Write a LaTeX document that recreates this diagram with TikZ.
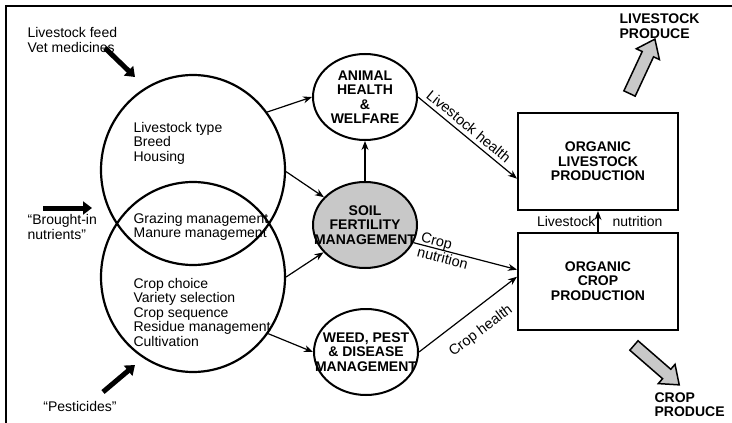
\documentclass[tikz,border=0pt]{standalone}
\usepackage{fontspec}
\setmainfont{Liberation Sans}
\usetikzlibrary{arrows.meta}
\usetikzlibrary{shapes.geometric,shapes.arrows}
\definecolor{soilc}{RGB}{200,200,200}
\definecolor{prodc}{RGB}{200,200,200}
\newcommand{\dgfont}{\fontsize{14}{14.5}\selectfont}

\begin{document}
\begin{tikzpicture}[x=1pt, y=-1pt, line width=1.2pt, >={Stealth[length=9pt,width=7pt]}]
	\tikzstyle{ring}=[ellipse, draw=black, line width=2.2pt, minimum width=184pt, minimum height=190pt, inner sep=0pt]
	\tikzstyle{topic}=[ellipse, draw=black, line width=2pt, fill=white, minimum width=104pt, minimum height=86pt, inner sep=0pt]
	\tikzstyle{soil topic}=[topic, fill=soilc]
	\tikzstyle{system}=[rectangle, draw=black, line width=2pt, minimum width=160pt, minimum height=97pt]
	\tikzstyle{caps}=[font=\dgfont\bfseries, align=center, inner sep=0pt]
	\tikzstyle{plain}=[font=\dgfont, align=left, inner sep=0pt, anchor=west]
	\tikzstyle{link}=[line width=1.2pt, ->]
	\tikzstyle{input}=[line width=5pt, -{Triangle[length=9pt,width=13pt]}]
	\tikzstyle{produce}=[single arrow, draw=black, line width=1.5pt, fill=prodc, minimum height=60pt, inner xsep=0pt, inner ysep=5.5pt, single arrow head extend=6.5pt, single arrow tip angle=75]
	\tikzstyle{slanted}=[font=\fontsize{14.5}{15}\selectfont, sloped, inner sep=4pt]

	\useasboundingbox (0,0) rectangle (732,423);
	\draw[line width=1.5pt] (6,423) -- (6,6) -- (732,6);

	% Management circles
	\node[ring](C1) at (193,170) {};
	\node[ring](C2) at (193,277) {};

	\node[plain](T1) at (133,143) {Livestock type\\Breed\\Housing};
	\node[plain](T2) at (133,227) {Grazing management\\Manure management};
	\node[plain](T3) at (133,312) {Crop choice\\Variety selection\\Crop sequence\\Residue management\\Cultivation};

	% Inputs
	\node[plain](I1) at (27,40) {Livestock feed\\Vet medicines};
	\node[plain](I2) at (27,227) {“Brought-in\\nutrients”};
	\node[font=\dgfont, inner sep=0pt](I3) at (80,406) {“Pesticides”};

	\coordinate (i1a) at (105,48);
	\coordinate (i1b) at (135,77);
	\coordinate (i2a) at (43,208);
	\coordinate (i2b) at (92,208);
	\coordinate (i3a) at (103,392);
	\coordinate (i3b) at (135,365);

	% Topics
	\node[topic](M1) at (365,97) {};
	\node[soil topic](M2) at (365,225) {};
	\node[topic](M3) at (366,352) {};
	\node[caps](M1t) at (M1) {ANIMAL\\HEALTH\\\&\\WELFARE};
	\node[caps](M2t) at (M2) {SOIL\\FERTILITY\\MANAGEMENT};
	\node[caps](M3t) at (M3) {WEED, PEST\\\& DISEASE\\MANAGEMENT};

	% Production
	\node[system](P1) at (598,161.5) {};
	\node[system](P2) at (598,281) {};
	\node[caps](P1t) at (P1) {ORGANIC\\LIVESTOCK\\PRODUCTION};
	\node[caps](P2t) at (P2) {ORGANIC\\CROP\\PRODUCTION};

	% Produce
	\node[produce, rotate=65](A1) at (640.5,70) {};
	\node[produce, rotate=-41](A2) at (653.5,362.5) {};
	\node[caps, align=left, anchor=west](O1) at (619,26) {LIVESTOCK\\PRODUCE};
	\node[caps, align=left, anchor=west](O2) at (654,404.5) {CROP\\PRODUCE};

	% Input Connections
	\path (i1a) edge [input] (i1b);
	\path (i2a) edge [input] (i2b);
	\path (i3a) edge [input] (i3b);

	% Circle Connections
	\path (C1.38) edge [link] (M1.west);
	\path (C1.-1) edge [link] (M2);
	\path (C2.0) edge [link] (M2);
	\path (C2.-37) edge [link] (M3.west);
	\path (M2) edge [link] (M1);

	% Production Connections
	\path (M1.east) edge [link] node[slanted, above, pos=0.45] {Livestock health} (P1.192);
	\path (M2.-20) edge [link] node[slanted, pos=0.3, align=left, inner sep=1pt] {Crop\\nutrition} (P2.172);
	\path (M3.east) edge [link] (P2.177);
	\node[font=\fontsize{14.5}{15}\selectfont, rotate=37, inner sep=0pt](L3) at (481,331) {Crop health};
	\path (P2) edge [link] node[font=\dgfont, left, inner sep=2pt] {Livestock} node[font=\dgfont, right, xshift=12pt, inner sep=2pt] {nutrition} (P1);
\end{tikzpicture}
\end{document}
